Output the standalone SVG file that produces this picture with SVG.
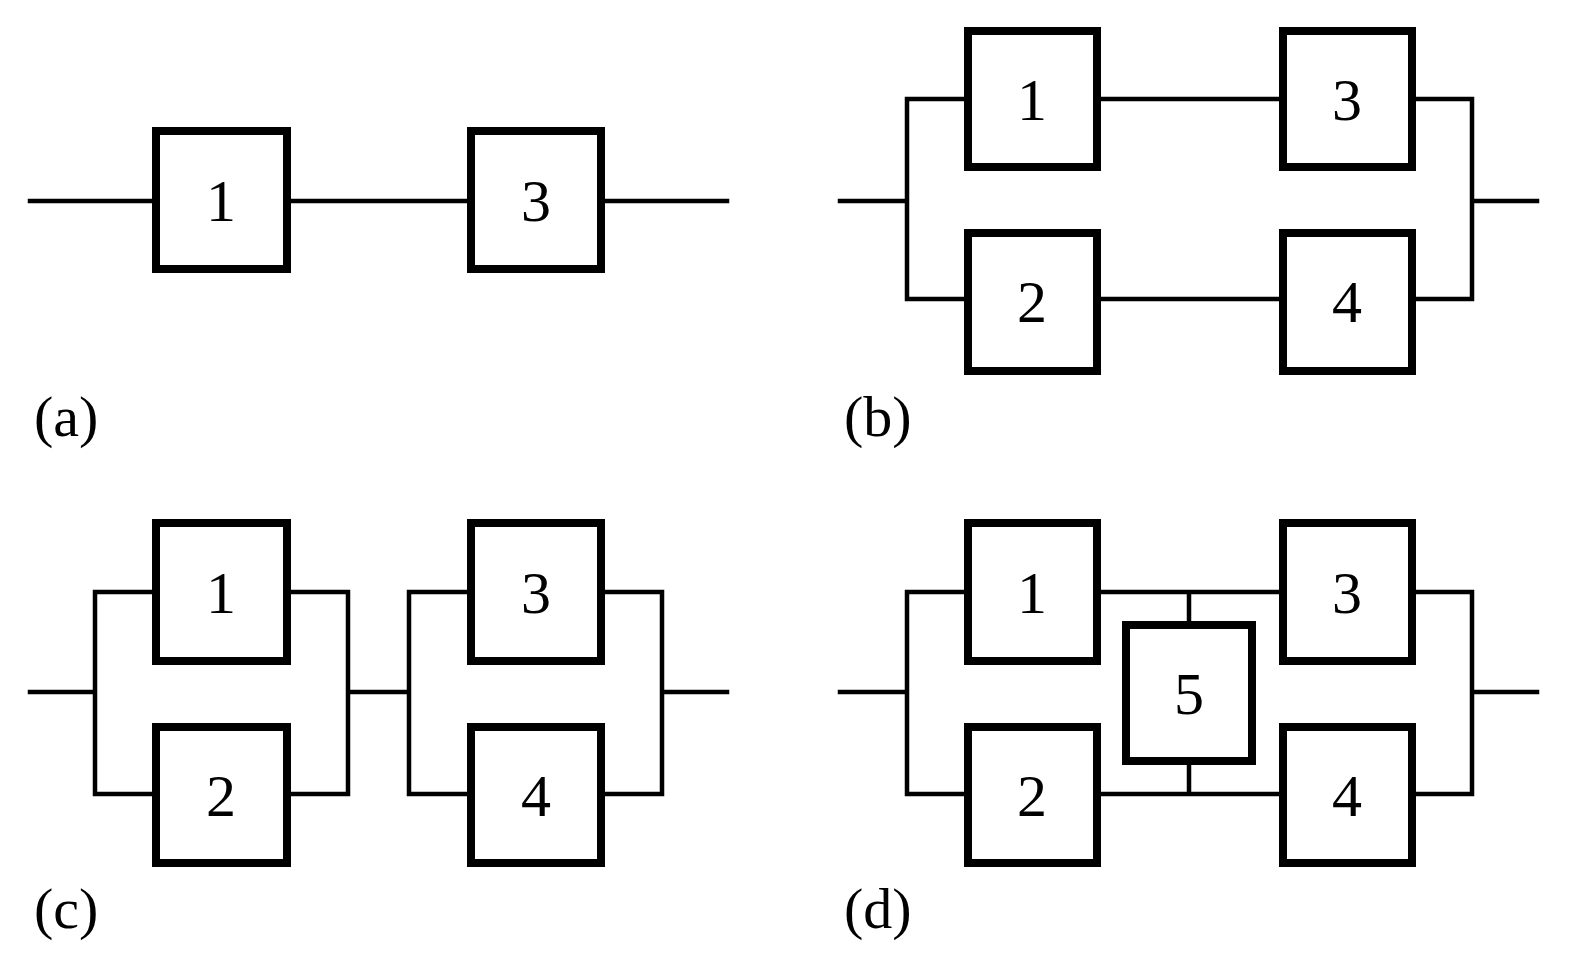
<svg xmlns="http://www.w3.org/2000/svg" width="1579" height="971" viewBox="0 0 1579 971">
<style>
.b{fill:#fff;stroke:#000;stroke-width:8}
.w{fill:none;stroke:#000;stroke-width:4.5;stroke-linecap:square}
text{font-family:"Liberation Serif",serif;fill:#000}
.n{font-size:60px;text-anchor:middle}
.l{font-size:58px}
</style>
<rect width="1579" height="971" fill="#fff"/>
<g id="connectors" class="w">
<path d="M30 201H156M287 201H471M601 201H727"/>
<path d="M840 201H907M907 99V299M907 99H968M907 299H968M1097 99H1283M1097 299H1283M1412 99H1472V299H1412M1472 201H1537"/>
<path d="M30 692H95M95 592V794M95 592H156M95 794H156M287 592H348V794H287M348 692H409M409 592V794M409 592H471M409 794H471M601 592H662V794H601M662 692H727"/>
<path d="M840 692H907M907 592V794M907 592H968M907 794H968M1097 592H1283M1097 794H1283M1412 592H1472V794H1412M1472 692H1537M1189 592V625M1189 761V794"/>
</g>
<g id="a1"><rect class="b" x="156" y="131" width="131" height="138"/><text class="n" x="221" y="221">1</text></g>
<g id="a3"><rect class="b" x="471" y="131" width="130" height="138"/><text class="n" x="536" y="221">3</text></g>
<g id="b1"><rect class="b" x="968" y="31" width="129" height="136"/><text class="n" x="1032" y="120">1</text></g>
<g id="b3"><rect class="b" x="1283" y="31" width="129" height="136"/><text class="n" x="1347" y="120">3</text></g>
<g id="b2"><rect class="b" x="968" y="233" width="129" height="138"/><text class="n" x="1032" y="322">2</text></g>
<g id="b4"><rect class="b" x="1283" y="233" width="129" height="138"/><text class="n" x="1347" y="322">4</text></g>
<g id="c1"><rect class="b" x="156" y="523" width="131" height="138"/><text class="n" x="221" y="613">1</text></g>
<g id="c2"><rect class="b" x="156" y="727" width="131" height="136"/><text class="n" x="221" y="816">2</text></g>
<g id="c3"><rect class="b" x="471" y="523" width="130" height="138"/><text class="n" x="536" y="613">3</text></g>
<g id="c4"><rect class="b" x="471" y="727" width="130" height="136"/><text class="n" x="536" y="816">4</text></g>
<g id="d1"><rect class="b" x="968" y="523" width="129" height="138"/><text class="n" x="1032" y="613">1</text></g>
<g id="d2"><rect class="b" x="968" y="727" width="129" height="136"/><text class="n" x="1032" y="816">2</text></g>
<g id="d3"><rect class="b" x="1283" y="523" width="129" height="138"/><text class="n" x="1347" y="613">3</text></g>
<g id="d4"><rect class="b" x="1283" y="727" width="129" height="136"/><text class="n" x="1347" y="816">4</text></g>
<g id="d5"><rect class="b" x="1126" y="625" width="126" height="136"/><text class="n" x="1189" y="714">5</text></g>
<text class="l" x="34" y="436">(a)</text>
<text class="l" x="844" y="436">(b)</text>
<text class="l" x="34" y="928">(c)</text>
<text class="l" x="844" y="928">(d)</text>
</svg>
